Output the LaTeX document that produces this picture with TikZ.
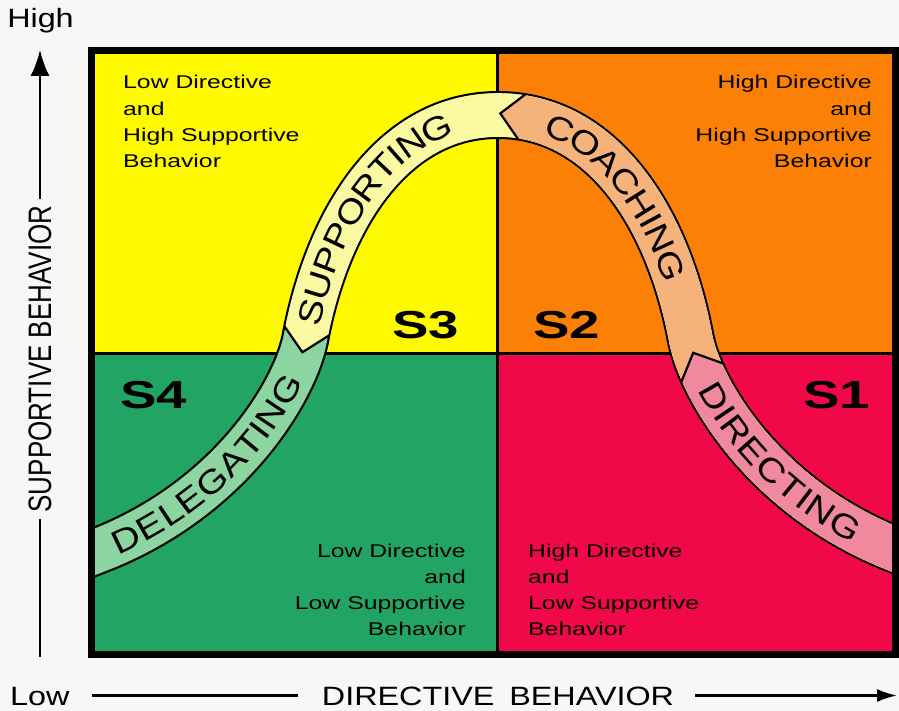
\documentclass[tikz,border=0pt]{standalone}
\usepackage{graphicx}
\usepackage{fontspec}
\setmainfont{Liberation Sans}
\newfontfamily\axisfont[FakeStretch=1.22]{Liberation Sans}
\newfontfamily\quadfont[FakeStretch=1.34]{Liberation Sans}
\newfontfamily\slabfont[FakeStretch=1.4]{Liberation Sans Bold}
\newfontfamily\bandfont[FakeStretch=1.18]{Liberation Sans}
\usetikzlibrary{calc,arrows.meta,decorations.text}

\definecolor{bgc}{RGB}{247,247,247}
\definecolor{qyel}{RGB}{255,250,0}
\definecolor{qora}{RGB}{252,128,6}
\definecolor{qgrn}{RGB}{34,165,100}
\definecolor{qred}{RGB}{240,8,72}
\definecolor{bsup}{RGB}{250,248,160}
\definecolor{bcoa}{RGB}{245,178,122}
\definecolor{bdir}{RGB}{240,136,158}
\definecolor{bdel}{RGB}{140,212,160}

\newcommand\mybandpath{(A0) -- (A) .. controls (P1) and (P2) .. (B) .. controls (P3) and (P4) .. (C) .. controls (P4r) and (P3r) .. (Br) .. controls (P2r) and (P1r) .. (Ar) -- (Ar0)}

\begin{document}
\begin{tikzpicture}[x=1pt,y=-1pt,
  jn/.style={sloped, allow upside down, rectangle, inner sep=0pt, outer sep=0pt, minimum width=44pt, minimum height=46pt},
  qtext/.style={inner sep=0pt, font=\quadfont\fontsize{18.5}{26.3}\selectfont},
  slab/.style={inner sep=0pt, anchor=base west, font=\slabfont\fontsize{39}{39}\selectfont},
  axl/.style={inner sep=0pt, font=\axisfont\fontsize{26.5}{30}\selectfont},
  axisln/.style={line width=2.2pt, black},
  outl/.style={line width=2.2pt, black, line join=miter},
  bandw/.style={line width=43.6pt}
]
\fill[bgc] (0,0) rectangle (899,711);
\useasboundingbox (0,0) rectangle (899,711);

% quadrants
\fill[qyel] (91.5,50.5) rectangle (497,353);
\fill[qora] (497,50.5) rectangle (895.5,353);
\fill[qgrn] (91.5,353) rectangle (497,654.5);
\fill[qred] (497,353) rectangle (895.5,654.5);
\draw[line width=3pt] (497,50.5) -- (497,654.5);
\draw[line width=3pt] (91.5,353) -- (895.5,353);

% band centreline
\coordinate (A0) at (78,558.5);
\coordinate (A) at (97,551);
\coordinate (P1) at (230,500);
\coordinate (P2) at (294,392);
\coordinate (B) at (305,340);
\coordinate (P3) at (328,215);
\coordinate (P4) at (395,115);
\coordinate (C) at (498,115);
\coordinate (P4r) at (601,115);
\coordinate (P3r) at (668,215);
\coordinate (Br) at (691,340);
\coordinate (P2r) at (702,392);
\coordinate (P1r) at (766,500);
\coordinate (Ar) at (899,551);
\coordinate (Ar0) at (918,558.5);

% junctions
\path (B) .. controls (P3) and (P4) .. (C) node[jn, pos=0.025] (j3) {};
\path (C) .. controls (P4r) and (P3r) .. (Br) node[jn, pos=0.08] (j2) {};
\path (Br) .. controls (P2r) and (P1r) .. (Ar) node[jn, pos=0.18] (j1) {};
\coordinate (j3n) at ($(j3.center)!4!(j3.north)$);
\coordinate (j3s) at ($(j3.center)!4!(j3.south)$);
\coordinate (j2n) at ($(j2.center)!4!(j2.north)$);
\coordinate (j2s) at ($(j2.center)!4!(j2.south)$);
\coordinate (j1n) at ($(j1.center)!4!(j1.north)$);
\coordinate (j1s) at ($(j1.center)!4!(j1.south)$);
\coordinate (bot) at (0,800);
\coordinate (top) at (0,-50);
\coordinate (rt) at (1000,0);

\begin{scope}
\clip (91.5,50.5) rectangle (895.5,654.5);
\draw[line width=48pt, black] \mybandpath;
\draw[bandw, bdel] \mybandpath;
\begin{scope}
\clip (j3n) -- (j3.north) -- (j3.west) -- (j3.south) -- (j3s) -- (j3s |- bot) -- (1000,800) -- (1000,-50) -- (j3n |- top) -- cycle;
\draw[bandw, bsup] \mybandpath;
\end{scope}
\begin{scope}
\clip (j2n) -- (j2.north) -- (j2.west) -- (j2.south) -- (j2s) -- (j2s |- bot) -- (1000,800) -- (1000,-50) -- (j2n |- top) -- cycle;
\draw[bandw, bcoa] \mybandpath;
\end{scope}
\begin{scope}
\clip (j1n) -- (j1.north) -- (j1.west) -- (j1.south) -- (j1s) -- (j1s |- bot) -- (1000,800) -- (j1n -| rt) -- cycle;
\draw[bandw, bdir] \mybandpath;
\end{scope}
\draw[outl] (j3.north) -- (j3.west) -- (j3.south);
\draw[outl] (j2.north) -- (j2.west) -- (j2.south);
\draw[outl] (j1.north) -- (j1.west) -- (j1.south);

% band texts
\path[decorate, decoration={text along path, raise=-11.8pt, text align={left, left indent=18pt},
  text={|\bandfont\fontsize{33}{33}\selectfont|DELEGATING}}] (A) .. controls (P1) and (P2) .. (B);
\path[decorate, decoration={text along path, raise=-11.8pt, text align={left, left indent=16pt},
  text={|\bandfont\fontsize{33}{33}\selectfont|SUPPORTING}}] (B) .. controls (P3) and (P4) .. (C);
\path[decorate, decoration={text along path, raise=-11.8pt, text align={left, left indent=50pt},
  text={|\bandfont\fontsize{33}{33}\selectfont|COACHING}}] (C) .. controls (P4r) and (P3r) .. (Br);
\path[decorate, decoration={text along path, raise=-11.8pt, text align={left, left indent=48pt},
  text={|\bandfont\fontsize{33}{33}\selectfont|DIRECTING}}] (Br) .. controls (P2r) and (P1r) .. (Ar);
\end{scope}

% frame
\draw[line width=7pt] (91.5,50.5) rectangle (895.5,654.5);

% quadrant texts
\node[qtext, anchor=base west] (tl) at (123,89) {\begin{tabular}[t]{@{}l@{}}Low Directive\\and\\High Supportive\\Behavior\end{tabular}};
\node[qtext, anchor=base east] (tr) at (872,89) {\begin{tabular}[t]{@{}r@{}}High Directive\\and\\High Supportive\\Behavior\end{tabular}};
\node[qtext, anchor=base east] (bl) at (466,557) {\begin{tabular}[t]{@{}r@{}}Low Directive\\and\\Low Supportive\\Behavior\end{tabular}};
\node[qtext, anchor=base west] (br) at (528,557) {\begin{tabular}[t]{@{}l@{}}High Directive\\and\\Low Supportive\\Behavior\end{tabular}};

% S labels
\node[slab] (s3) at (392,338) {S3};
\node[slab] (s2) at (533,338) {S2};
\node[slab] (s4) at (120,408) {S4};
\node[slab] (s1) at (803,408) {S1};

% axes
\node[axl, anchor=base] (high) at (40.5,28) {High};
\node[axl, anchor=base west] (low) at (10,705) {Low};
\node[axl, anchor=base] (xlab) at (498,705) {DIRECTIVE\hspace{15pt}BEHAVIOR};
\node[rotate=90, inner sep=0pt, font=\fontsize{26}{30}\selectfont] (ylab) at (40,359) {\scalebox{1}[1.25]{SUPPORTIVE BEHAVIOR}};

\coordinate (vtop) at (40,50);
\coordinate (vbot) at (40,657);
\coordinate (vt1) at (40,199);
\coordinate (vb1) at (40,519);
\draw[axisln, -{Latex[length=26pt,width=19pt]}] (vt1) -- (vtop);
\draw[axisln] (vb1) -- (vbot);
\coordinate (h1) at (92,695.5);
\coordinate (h2) at (298,695.5);
\coordinate (h3) at (695,695.5);
\coordinate (h4) at (897,695.5);
\draw[axisln] (h1) -- (h2);
\draw[axisln, -{Latex[length=20pt,width=13pt]}] (h3) -- (h4);
\end{tikzpicture}
\end{document}
